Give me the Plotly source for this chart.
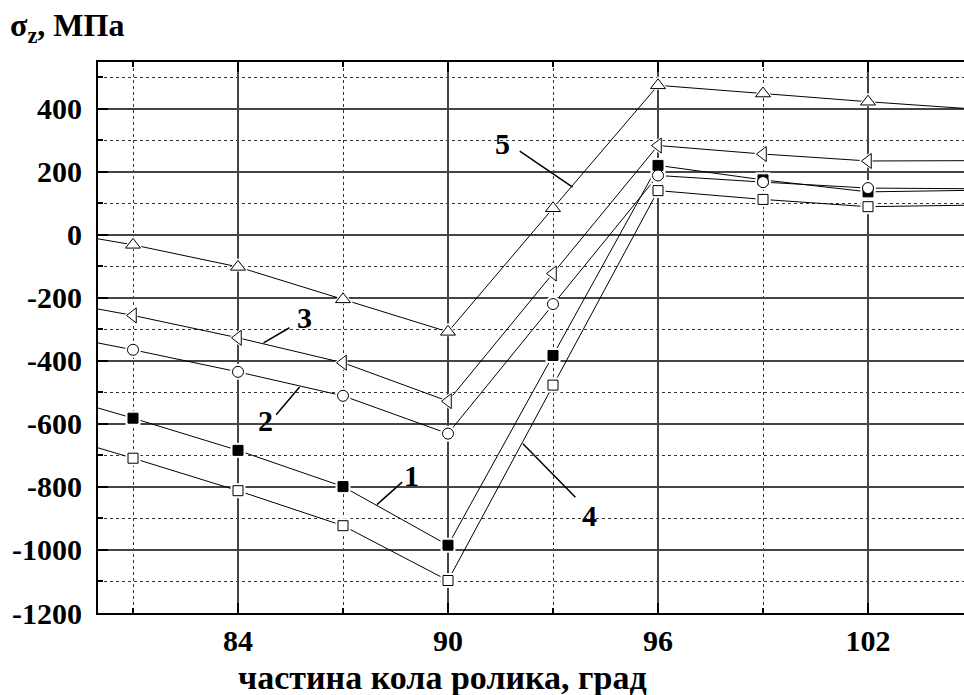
import plotly.graph_objects as go

# ---- data ----
angle = [78, 81, 84, 87, 90, 93, 96, 99, 102, 105]
s1_filled_sq = [-485, -582, -684, -799, -985, -383, 220, 174, 136, 141]
s2_circle = [-300, -365, -435, -511, -631, -220, 188, 167, 148, 146]
s3_left_tri = [-195, -256, -327, -406, -528, -123, 283, 256, 234, 235]
s4_open_sq = [-610, -709, -812, -923, -1097, -477, 140, 112, 89, 94]
s5_up_tri = [25, -32, -102, -205, -308, 84, 474, 448, 422, 399]

x_ticks = [84, 90, 96, 102]
x_minor = [81, 87, 93, 99]
y_ticks = [-1200, -1000, -800, -600, -400, -200, 0, 200, 400]
y_minor = [-1100, -900, -700, -500, -300, -100, 100, 300, 500]

# curve labels: (text, label_x, label_y, leader_x0, leader_y0, leader_x1, leader_y1)
curve_labels = [
    ("1", 88.97, -764, 87.97, -856, 88.69, -785),
    ("2", 84.78, -588, 85.09, -571, 85.76, -483),
    ("3", 85.91, -261, 84.73, -343, 85.47, -295),
    ("4", 94.04, -891, 92.14, -663, 93.64, -833),
    ("5", 91.55, 290, 92.05, 265, 93.56, 151),
]

y_title = "<b>σ<sub>z</sub>, МПа</b>"
x_title = "<b>частина кола ролика, град</b>"

FONT = "Liberation Serif"
L, T, B, W, H = 98, 62, 82, 964, 695
PW, PH = W - L, H - T - B

series = [
    (s4_open_sq, "square", 10, "white"),
    (s1_filled_sq, "square", 10, "black"),
    (s2_circle, "circle", 11, "white"),
    (s3_left_tri, "triangle-left", 13, "white"),
    (s5_up_tri, "triangle-up", 13, "white"),
]

fig = go.Figure()
for ys, sym, sz, fill in series:
    fig.add_trace(go.Scatter(x=angle, y=ys, mode="lines",
                             line=dict(color="black", width=1), showlegend=False,
                             hoverinfo="skip"))
for ys, sym, sz, fill in series:
    fig.add_trace(go.Scatter(x=angle, y=ys, mode="markers",
                             marker=dict(symbol=sym, size=sz + 5, color="white",
                                         line=dict(width=0)),
                             showlegend=False, hoverinfo="skip"))
for ys, sym, sz, fill in series:
    fig.add_trace(go.Scatter(x=angle, y=ys, mode="markers",
                             marker=dict(symbol=sym, size=sz, color=fill,
                                         line=dict(color="black", width=1)),
                             showlegend=False))

annotations = []
shapes = []
for txt, lx, ly, x0, y0, x1, y1 in curve_labels:
    shapes.append(dict(type="line", x0=x0, y0=y0, x1=x1, y1=y1, xref="x", yref="y",
                       line=dict(color="black", width=1.5)))
    annotations.append(dict(x=lx, y=ly, text="<b>%s</b>" % txt, showarrow=False,
                            xref="x", yref="y",
                            font=dict(family=FONT, size=30, color="black")))

annotations.append(dict(text=y_title, x=(8 - L) / PW, y=(H - B - 5) / PH, xref="paper",
                        yref="paper", xanchor="left", yanchor="top", showarrow=False,
                        font=dict(family=FONT, size=32, color="black")))
annotations.append(dict(text=x_title, x=(442 - L) / PW, y=(H - B - 677) / PH,
                        xref="paper", yref="paper", xanchor="center", yanchor="middle",
                        showarrow=False, font=dict(family=FONT, size=34, color="black")))

fig.update_layout(
    width=W, height=H,
    margin=dict(l=L, r=0, t=T, b=B),
    paper_bgcolor="white", plot_bgcolor="white",
    font=dict(family=FONT, size=30, color="black"),
    annotations=annotations, shapes=shapes,
)

fig.update_xaxes(
    range=[80, 80 + PW / 35], tickvals=x_ticks,
    ticktext=["<b>%d</b>" % v for v in x_ticks],
    showline=True, linecolor="black", linewidth=2, mirror="ticks",
    ticks="inside", ticklen=10, tickwidth=2, tickcolor="black",
    showgrid=True, gridcolor="#444", gridwidth=1.5, zeroline=False,
    tickfont=dict(family=FONT, size=30, color="black"), ticklabelstandoff=0,
    minor=dict(tickvals=x_minor, ticks="inside", ticklen=5, tickwidth=1.5,
               tickcolor="black", showgrid=True, gridcolor="#333", griddash="dot", gridwidth=1),
)
fig.update_yaxes(
    range=[-1200, 548], tickvals=y_ticks,
    ticktext=["<b>%d</b>" % v for v in y_ticks],
    showline=True, linecolor="black", linewidth=2, mirror=False,
    ticks="inside", ticklen=10, tickwidth=2, tickcolor="black",
    showgrid=True, gridcolor="#444", gridwidth=1.5, zeroline=False,
    tickfont=dict(family=FONT, size=30, color="black"), ticklabelstandoff=8,
    minor=dict(tickvals=y_minor, ticks="inside",
               ticklen=5, tickwidth=1.5, tickcolor="black", showgrid=True,
               gridcolor="#333", griddash="dot", gridwidth=1),
)

fig.write_html("out.html")
